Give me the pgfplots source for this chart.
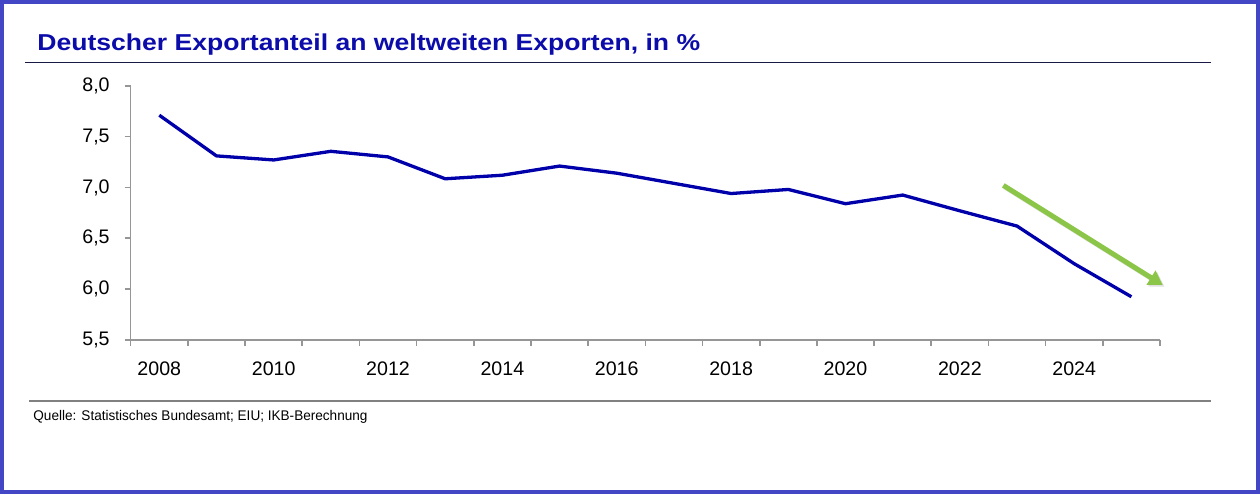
\documentclass[border=0pt]{standalone}
\usepackage{pgfplots}
\pgfplotsset{compat=1.18}
\usepackage{fontspec}
\setmainfont{Liberation Sans}
\usetikzlibrary{arrows.meta}
\definecolor{frameblue}{RGB}{67,71,198}
\definecolor{titleblue}{RGB}{12,12,170}
\definecolor{lineblue}{RGB}{0,0,170}
\definecolor{arrowgreen}{RGB}{140,198,72}
\definecolor{axisgray}{RGB}{150,150,150}
\definecolor{rulenavy}{RGB}{25,25,70}
\pgfplotstableread{
year share
2008 7.71
2009 7.31
2010 7.27
2011 7.355
2012 7.30
2013 7.085
2014 7.12
2015 7.21
2016 7.14
2017 7.04
2018 6.94
2019 6.98
2020 6.84
2021 6.925
2022 6.77
2023 6.62
2024 6.25
2025 5.925
}\sharetable
\begin{document}
\begin{tikzpicture}[x=1pt,y=1pt]
\fill[white] (0,0) rectangle (630,247);
\draw[frameblue, line width=2pt] (1,1) rectangle (629,246);
\node[anchor=base west, inner sep=0, text=titleblue, font=\fontsize{11.5}{13}\selectfont\bfseries] at (18.5,222) {\scalebox{1.155}[1]{Deutscher Exportanteil an weltweiten Exporten, in \%}};
\draw[rulenavy, line width=0.6pt] (12.5,215.7) -- (605.3,215.7);
\draw[gray, line width=0.6pt] (14.5,46.5) -- (605.3,46.5);
\node[anchor=base west, inner sep=0, font=\fontsize{7}{8}\selectfont] at (16.5,37) {\scalebox{0.97}[1]{Quelle: Statistisches Bundesamt; EIU; IKB-Berechnung}};
\begin{axis}[at={(65.35pt,77pt)}, anchor=south west, scale only axis,
  width=514.65pt, height=127.15pt,
  xmin=2007.5, xmax=2025.5, ymin=5.5, ymax=8,
  axis x line*=bottom, axis y line*=left,
  axis line style={axisgray, line width=0.8pt},
  tick align=outside,
  xtick={2008,2010,...,2024},
  minor xtick={2007.5,2008.5,...,2025.5},
  major x tick style={draw=none},
  minor x tick style={axisgray, line width=0.8pt},
  y tick style={axisgray, line width=0.8pt},
  major tick length=3pt, minor tick length=3pt,
  ytick={5.5,6,6.5,7,7.5,8},
  xticklabel={\pgfmathprintnumber[1000 sep={}]{\tick}},
  y tick label style={xshift=-4pt, /pgf/number format/.cd, fixed, fixed zerofill, precision=1, use comma},
  /pgf/number format/assume math mode=true,
  tick label style={font=\fontsize{9.8}{11}\selectfont, text=black},
  x tick label style={yshift=-4.5pt},
  clip=false,
]
\addplot[lineblue, line width=1.65pt, line join=round] table[x=year, y=share] {\sharetable};
\draw[black, opacity=0.12, line width=2.5pt, -{Triangle[length=7pt,width=8pt]}] ([shift={(0.8pt,-0.8pt)}]axis cs:2022.76,7.02) -- ([shift={(0.8pt,-0.8pt)}]axis cs:2025.55,6.04);
\draw[arrowgreen, line width=2.5pt, -{Triangle[length=7pt,width=8pt]}] (axis cs:2022.76,7.02) -- (axis cs:2025.55,6.04);
\end{axis}
\end{tikzpicture}
\end{document}
